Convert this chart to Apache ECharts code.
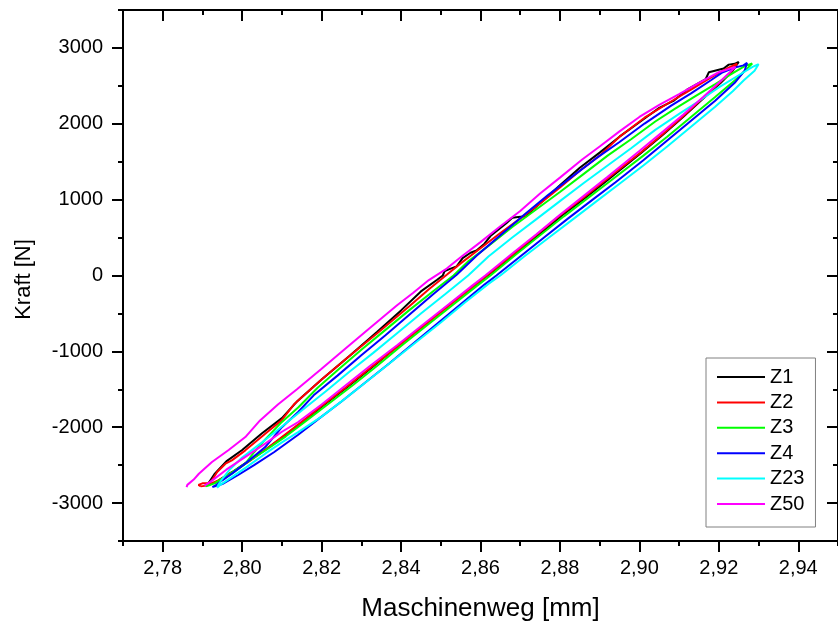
<!DOCTYPE html>
<html>
<head>
<meta charset="utf-8">
<script src="https://cdn.jsdelivr.net/npm/echarts@6/dist/echarts.min.js"></script>
<style>
html,body{margin:0;padding:0;background:#fff;}
#chart{width:838px;height:628px;}
</style>
</head>
<body>
<div id="chart"></div>
<script>
// Tick values
var xMajorTicks = [2.78, 2.80, 2.82, 2.84, 2.86, 2.88, 2.90, 2.92, 2.94];
var xMinorTicks = [2.77, 2.79, 2.81, 2.83, 2.85, 2.87, 2.89, 2.91, 2.93, 2.95];
var yMajorTicks = [-3000, -2000, -1000, 0, 1000, 2000, 3000];
var yMinorTicks = [-3500, -2500, -1500, -500, 500, 1500, 2500, 3500];

var seriesNames = ['Z1', 'Z2', 'Z3', 'Z4', 'Z23', 'Z50'];
var seriesColors = ['#000000', '#ff0000', '#00ff00', '#0000ff', '#00ffff', '#ff00ff'];

// Z1 (black): lower branch, then upper branch  [Maschinenweg mm, Kraft N]
var z1Lower = [[2.7910,-2770],[2.7935,-2720],[2.7975,-2590],[2.8015,-2450],[2.8060,-2290],[2.8105,-2120],[2.8155,-1920],[2.8205,-1710],[2.8265,-1470],[2.8325,-1220],[2.8390,-940],[2.8455,-670],[2.8520,-390],[2.8585,-130],[2.8618,0],[2.8685,280],[2.8745,530],[2.8805,790],[2.8865,1030],[2.8925,1280],[2.9005,1620],[2.9060,1860],[2.9110,2090],[2.9160,2330],[2.9205,2540],[2.9235,2700],[2.9250,2815]];
var z1Upper = [[2.9250,2815],[2.9240,2790],[2.9225,2780],[2.9212,2728],[2.9190,2700],[2.9175,2680],[2.9167,2590],[2.9120,2450],[2.9088,2310],[2.9050,2210],[2.9013,2069],[2.8950,1830],[2.8900,1620],[2.8850,1420],[2.8800,1190],[2.8760,1000],[2.8730,860],[2.8715,780],[2.8695,770],[2.8680,760],[2.8665,690],[2.8625,520],[2.8610,420],[2.8590,330],[2.8575,300],[2.8555,230],[2.8540,120],[2.8525,90],[2.8510,60],[2.8505,0],[2.8490,-60],[2.8450,-210],[2.8400,-460],[2.8340,-740],[2.8270,-1060],[2.8200,-1370],[2.8140,-1650],[2.8100,-1880],[2.8050,-2080],[2.8000,-2300],[2.7960,-2450],[2.7930,-2620],[2.7915,-2740],[2.7910,-2770]];

// Z2 (red)
var z2Lower = [[2.7896,-2780],[2.7910,-2770],[2.7940,-2700],[2.7980,-2580],[2.8020,-2440],[2.8060,-2290],[2.8100,-2130],[2.8150,-1930],[2.8200,-1720],[2.8260,-1480],[2.8320,-1230],[2.8390,-943],[2.8450,-690],[2.8520,-400],[2.8580,-150],[2.8616,0],[2.8680,270],[2.8740,530],[2.8800,790],[2.8860,1030],[2.8920,1280],[2.9005,1629],[2.9060,1870],[2.9110,2100],[2.9160,2340],[2.9200,2530],[2.9230,2680],[2.9246,2794]];
var z2Upper = [[2.9246,2794],[2.9225,2740],[2.9200,2670],[2.9167,2570],[2.9130,2450],[2.9088,2320],[2.9013,2080],[2.8950,1830],[2.8900,1580],[2.8850,1380],[2.8800,1160],[2.8750,950],[2.8700,750],[2.8650,560],[2.8600,360],[2.8550,160],[2.8515,10],[2.8470,-180],[2.8420,-410],[2.8340,-760],[2.8270,-1060],[2.8200,-1370],[2.8132,-1690],[2.8099,-1910],[2.8058,-2085],[2.8008,-2305],[2.7974,-2437],[2.7958,-2481],[2.7937,-2591],[2.7924,-2700],[2.7915,-2735],[2.7900,-2740],[2.7890,-2760],[2.7896,-2780]];

// Z3 (green)
var z3Lower = [[2.7908,-2780],[2.7930,-2740],[2.7970,-2610],[2.8010,-2470],[2.8060,-2300],[2.8110,-2120],[2.8160,-1920],[2.8220,-1680],[2.8280,-1440],[2.8340,-1190],[2.8400,-930],[2.8460,-680],[2.8530,-390],[2.8590,-140],[2.8625,0],[2.8690,280],[2.8750,530],[2.8810,780],[2.8870,1020],[2.8930,1260],[2.9010,1580],[2.9070,1830],[2.9130,2090],[2.9190,2350],[2.9240,2570],[2.9270,2720],[2.9284,2794]];
var z3Upper = [[2.9284,2794],[2.9265,2760],[2.9230,2650],[2.9190,2520],[2.9140,2360],[2.9090,2200],[2.9040,2030],[2.8980,1800],[2.8920,1580],[2.8860,1340],[2.8800,1100],[2.8740,870],[2.8680,640],[2.8620,390],[2.8570,190],[2.8532,0],[2.8480,-210],[2.8420,-460],[2.8360,-720],[2.8300,-980],[2.8240,-1250],[2.8190,-1480],[2.8141,-1740],[2.8100,-1930],[2.8060,-2150],[2.8030,-2330],[2.8008,-2480],[2.7975,-2610],[2.7940,-2720],[2.7915,-2770],[2.7908,-2780]];

// Z4 (blue)
var z4Lower = [[2.7925,-2790],[2.7950,-2750],[2.7990,-2630],[2.8030,-2500],[2.8080,-2330],[2.8141,-2100],[2.8190,-1900],[2.8250,-1660],[2.8310,-1410],[2.8370,-1160],[2.8430,-900],[2.8490,-640],[2.8550,-380],[2.8610,-120],[2.8640,0],[2.8700,250],[2.8760,500],[2.8820,750],[2.8880,990],[2.8940,1230],[2.9010,1520],[2.9070,1780],[2.9130,2040],[2.9190,2300],[2.9240,2540],[2.9265,2700],[2.9271,2802]];
var z4Upper = [[2.9271,2802],[2.9262,2770],[2.9240,2740],[2.9210,2680],[2.9180,2574],[2.9130,2400],[2.9080,2240],[2.9013,2003],[2.8950,1760],[2.8890,1540],[2.8830,1300],[2.8770,1060],[2.8710,800],[2.8650,530],[2.8590,260],[2.8540,10],[2.8480,-250],[2.8420,-520],[2.8360,-790],[2.8300,-1050],[2.8240,-1320],[2.8180,-1580],[2.8141,-1800],[2.8100,-2000],[2.8058,-2262],[2.8010,-2470],[2.7974,-2612],[2.7950,-2700],[2.7935,-2760],[2.7925,-2790]];

// Z23 (cyan)
var z23Lower = [[2.7937,-2797],[2.7945,-2760],[2.7974,-2657],[2.8010,-2530],[2.8058,-2349],[2.8100,-2200],[2.8141,-2064],[2.8200,-1860],[2.8260,-1620],[2.8320,-1370],[2.8380,-1120],[2.8440,-870],[2.8500,-620],[2.8560,-360],[2.8620,-110],[2.8650,0],[2.8710,250],[2.8770,490],[2.8830,730],[2.8890,970],[2.8950,1210],[2.9010,1450],[2.9070,1700],[2.9130,1960],[2.9190,2220],[2.9235,2430],[2.9263,2574],[2.9290,2700],[2.9300,2785]];
var z23Upper = [[2.9300,2785],[2.9285,2750],[2.9250,2640],[2.9200,2480],[2.9150,2300],[2.9100,2130],[2.9040,1920],[2.8980,1680],[2.8920,1450],[2.8860,1220],[2.8800,980],[2.8740,740],[2.8680,500],[2.8620,250],[2.8569,0],[2.8510,-250],[2.8450,-500],[2.8390,-760],[2.8330,-1020],[2.8270,-1270],[2.8210,-1530],[2.8150,-1780],[2.8100,-1990],[2.8050,-2200],[2.8000,-2400],[2.7970,-2550],[2.7950,-2680],[2.7940,-2760],[2.7937,-2797]];

// Z50 (magenta)
var z50Lower = [[2.7905,-2770],[2.7920,-2720],[2.7960,-2560],[2.8008,-2390],[2.8058,-2217],[2.8100,-2060],[2.8141,-1932],[2.8200,-1700],[2.8260,-1450],[2.8320,-1200],[2.8390,-920],[2.8450,-670],[2.8520,-380],[2.8580,-130],[2.8612,0],[2.8680,290],[2.8740,540],[2.8800,800],[2.8860,1050],[2.8920,1300],[2.9000,1640],[2.9060,1900],[2.9110,2120],[2.9160,2350],[2.9200,2540],[2.9242,2750]];
var z50Upper = [[2.9242,2750],[2.9200,2680],[2.9150,2540],[2.9100,2390],[2.9050,2250],[2.9000,2090],[2.8950,1900],[2.8900,1700],[2.8856,1530],[2.8800,1290],[2.8750,1080],[2.8700,850],[2.8650,650],[2.8600,440],[2.8550,240],[2.8515,91],[2.8470,-60],[2.8430,-230],[2.8390,-393],[2.8320,-700],[2.8252,-1000],[2.8200,-1230],[2.8138,-1500],[2.8090,-1700],[2.8045,-1910],[2.8008,-2130],[2.7966,-2300],[2.7924,-2459],[2.7891,-2613],[2.7878,-2690],[2.7862,-2760],[2.7860,-2790]];

var seriesData = [
  z1Lower.concat(z1Upper),
  z2Lower.concat(z2Upper),
  z3Lower.concat(z3Upper),
  z4Lower.concat(z4Upper),
  z23Lower.concat(z23Upper),
  z50Lower.concat(z50Upper)
];

var FONT = '"Liberation Sans", Arial, sans-serif';
var XMIN = 2.77, XMAX = 2.95, YMIN = -3500, YMAX = 3500;

function xAxisDef(pos, ticks, len, inside, showLine, showLabel, withName) {
  var a = {
    type: 'value', position: pos, min: XMIN, max: XMAX,
    splitLine: {show: false},
    axisLine: {show: showLine, onZero: false, lineStyle: {color: '#000', width: 2}},
    axisTick: {show: true, inside: inside, length: len, customValues: ticks, lineStyle: {color: '#000', width: 2}},
    axisLabel: {show: showLabel, customValues: ticks, margin: 17, fontSize: 20, color: '#000', fontFamily: FONT,
      formatter: function (v) { return v.toFixed(2).replace('.', ','); }}
  };
  if (withName) {
    a.name = 'Maschinenweg [mm]';
    a.nameLocation = 'middle';
    a.nameGap = 55;
    a.nameTextStyle = {fontSize: 26, color: '#000', fontFamily: FONT};
  }
  return a;
}
function yAxisDef(pos, ticks, len, inside, showLine, showLabel, withName) {
  var a = {
    type: 'value', position: pos, min: YMIN, max: YMAX,
    splitLine: {show: false},
    axisLine: {show: showLine, onZero: false, lineStyle: {color: '#000', width: 2}},
    axisTick: {show: true, inside: inside, length: len, customValues: ticks, lineStyle: {color: '#000', width: 2}},
    axisLabel: {show: showLabel, customValues: ticks, margin: 20, fontSize: 20, color: '#000', fontFamily: FONT,
      formatter: function (v) { return String(v); }}
  };
  if (withName) {
    a.name = 'Kraft [N]';
    a.nameLocation = 'middle';
    a.nameGap = 88;
    a.nameTextStyle = {fontSize: 22, color: '#000', fontFamily: FONT, padding: [0, 8, 0, 0]};
  }
  return a;
}

var chart = echarts.init(document.getElementById('chart'), null, {renderer: 'canvas'});
chart.setOption({
  animation: false,
  backgroundColor: '#fff',
  grid: {left: 123, right: -6, top: 10, bottom: 87, containLabel: false},
  xAxis: [
    xAxisDef('bottom', xMajorTicks, 11, false, true, true, true),
    xAxisDef('bottom', xMinorTicks, 5, false, false, false, false),
    xAxisDef('top', xMajorTicks, 11, true, true, false, false),
    xAxisDef('top', xMinorTicks, 5, true, false, false, false)
  ],
  yAxis: [
    yAxisDef('left', yMajorTicks, 11, false, true, true, true),
    yAxisDef('left', yMinorTicks, 5, false, false, false, false),
    yAxisDef('right', yMajorTicks, 11, true, true, false, false),
    yAxisDef('right', yMinorTicks, 5, true, false, false, false)
  ],
  legend: {
    show: true, orient: 'vertical', left: 706, top: 358,
    data: seriesNames.map(function (n) { return {name: n, icon: 'rect'}; }),
    itemWidth: 48, itemHeight: 2, itemGap: 5.4, itemTextGap: 6,
    padding: [9, 11, 13, 11],
    borderColor: '#808080', borderWidth: 1, backgroundColor: '#fff',
    textStyle: {fontSize: 20, color: '#000', fontFamily: FONT}
  },
  series: seriesNames.map(function (name, i) {
    return {
      name: name, type: 'line', xAxisIndex: 0, yAxisIndex: 0,
      data: seriesData[i], showSymbol: false, symbol: 'none',
      lineStyle: {color: seriesColors[i], width: 2},
      itemStyle: {color: seriesColors[i]},
      smooth: false, clip: true
    };
  })
});
</script>
</body>
</html>
